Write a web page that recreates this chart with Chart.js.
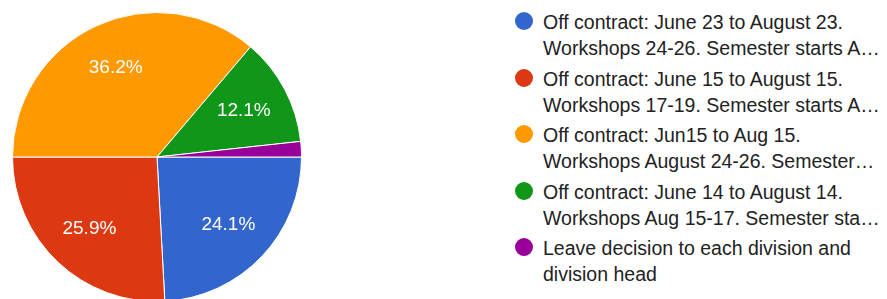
<!DOCTYPE html>
<html>
<head>
<meta charset="utf-8">
<script src="https://cdn.jsdelivr.net/npm/chart.js@4/dist/chart.umd.min.js"></script>
<style>
  html, body { margin: 0; padding: 0; background: #fff; width: 887px; height: 299px; overflow: hidden; }
  #pieWrap { position: absolute; left: 12px; top: 12px; width: 290px; height: 290px; }
  .dot { position: absolute; width: 18px; height: 18px; border-radius: 50%; }
  .item { position: absolute; left: 543px; font-family: "Liberation Sans", Arial, sans-serif; font-size: 19.5px; line-height: 26px; color: #222; white-space: pre; }
</style>
</head>
<body>
<div id="pieWrap"><canvas id="c"></canvas></div>
<div id="legend"></div>
<script>
// ---- data ----
const categories = [
  ["Off contract: June 23 to August 23.", "Workshops 24-26. Semester starts A\u2026"],
  ["Off contract: June 15 to August 15.", "Workshops 17-19. Semester starts A\u2026"],
  ["Off contract: Jun15 to Aug 15.", "Workshops August 24-26. Semester\u2026"],
  ["Off contract: June 14 to August 14.", "Workshops Aug 15-17. Semester sta\u2026"],
  ["Leave decision to each division and", "division head"]
];
const responses = [14, 15, 21, 7, 1];
const sliceColors = ["#3366cc", "#dc3912", "#ff9900", "#109618", "#990099"];

// ---- legend (HTML) ----
const legend = document.getElementById('legend');
categories.forEach((lines, i) => {
  const top = 9.2 + i * 56.5;
  const dot = document.createElement('div');
  dot.className = 'dot';
  dot.style.background = sliceColors[i];
  dot.style.left = (524 - 9) + 'px';
  dot.style.top = (top + 12 - 9) + 'px';
  legend.appendChild(dot);
  const t = document.createElement('div');
  t.className = 'item';
  t.style.top = top + 'px';
  t.textContent = lines.join('\n');
  legend.appendChild(t);
});

// ---- percent labels plugin ----
const pctLabels = {
  id: 'pctLabels',
  afterDatasetsDraw(chart) {
    const ctx = chart.ctx;
    const meta = chart.getDatasetMeta(0);
    const data = chart.data.datasets[0].data;
    const total = data.reduce((a, b) => a + b, 0);
    ctx.save();
    ctx.fillStyle = '#ffffff';
    ctx.font = '19px "Liberation Sans", Arial, sans-serif';
    ctx.textAlign = 'center';
    ctx.textBaseline = 'middle';
    meta.data.forEach((arc, i) => {
      const pct = data[i] / total * 100;
      if (pct < 5) return;
      const p = arc.getProps(['x', 'y', 'startAngle', 'endAngle', 'outerRadius'], true);
      const mid = (p.startAngle + p.endAngle) / 2;
      const r = p.outerRadius * 0.68;
      ctx.fillText(pct.toFixed(1) + '%', p.x + Math.cos(mid) * r, p.y + Math.sin(mid) * r);
    });
    ctx.restore();
  }
};

new Chart(document.getElementById('c'), {
  type: 'pie',
  data: {
    labels: categories.map(l => l.join(' ')),
    datasets: [{
      data: responses,
      backgroundColor: sliceColors,
      borderColor: '#ffffff',
      borderWidth: 1
    }]
  },
  options: {
    responsive: true,
    maintainAspectRatio: false,
    animation: false,
    rotation: 90,
    layout: { padding: 0 },
    plugins: { legend: { display: false }, tooltip: { enabled: false } }
  },
  plugins: [pctLabels]
});
</script>
</body>
</html>
